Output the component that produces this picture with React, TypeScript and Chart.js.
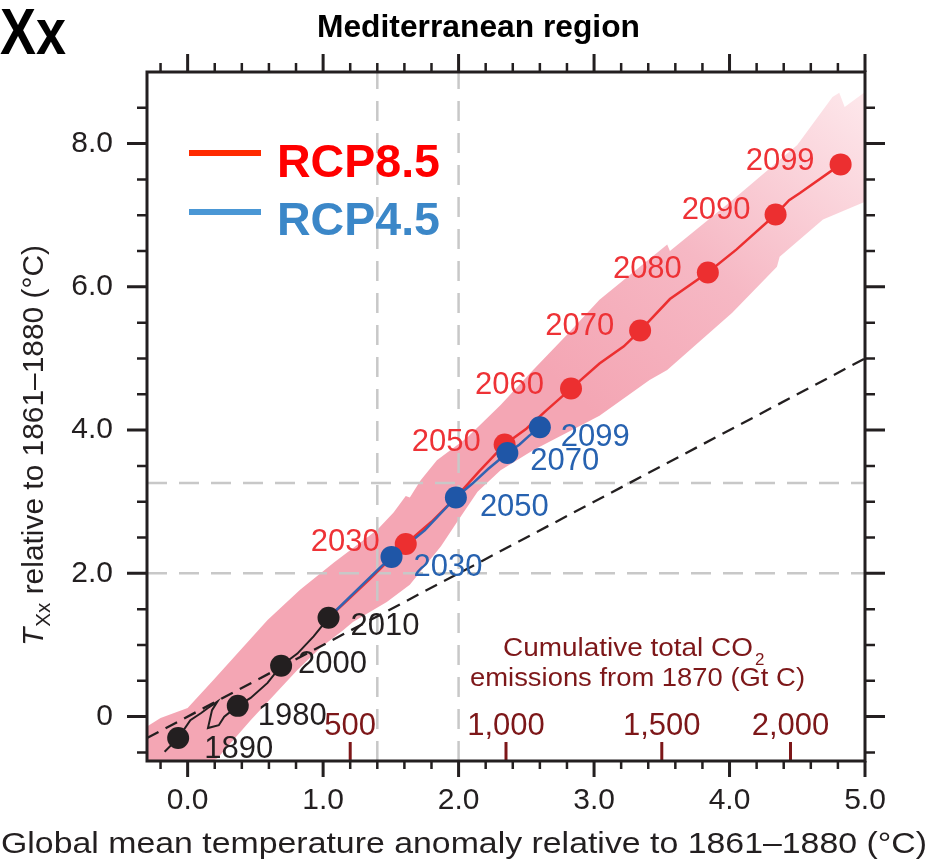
import React, { useEffect, useRef } from 'react';
import { Chart, registerables } from 'chart.js';

Chart.register(...registerables);

const FONT = '"Liberation Sans", Arial, Helvetica, sans-serif';
const INK = '#231f20';

// ---------- axis ranges & tick labels ----------
const X_MIN = -0.3;
const X_MAX = 5.0;
const Y_MIN = -0.62;
const Y_MAX = 9.0;
const xTickValues = [0, 1, 2, 3, 4, 5];
const yTickValues = [0, 2, 4, 6, 8];

// ---------- historical (black) ----------
const histYears = ['1890', '1980', '2000', '2010'];
const histX = [-0.07, 0.37, 0.69, 1.04];
const histY = [-0.3, 0.15, 0.71, 1.38];
const histLineX = [-0.17, -0.07, 0.02, 0.1, 0.15, 0.22, 0.18, 0.15, 0.23, 0.27, 0.37, 0.465, 0.59, 0.69, 0.81, 0.93, 1.04];
const histLineY = [-0.49, -0.3, -0.05, 0.05, 0.12, 0.21, 0.09, -0.16, -0.12, 0.0, 0.15, 0.26, 0.47, 0.71, 0.88, 1.12, 1.38];

// ---------- RCP8.5 (red) ----------
const rcp85Years = ['2030', '2050', '2060', '2070', '2080', '2090', '2099'];
const rcp85X = [1.61, 2.34, 2.83, 3.34, 3.84, 4.34, 4.82];
const rcp85Y = [2.41, 3.8, 4.58, 5.39, 6.2, 7.01, 7.71];
const rcp85LineX = [1.04, 1.2, 1.35, 1.5, 1.61, 1.8, 1.98, 2.15, 2.34, 2.5, 2.65, 2.83, 3.04, 3.22, 3.34, 3.56, 3.84, 4.05, 4.34, 4.44, 4.52, 4.82];
const rcp85LineY = [1.38, 1.66, 1.93, 2.21, 2.41, 2.72, 3.06, 3.42, 3.8, 4.02, 4.28, 4.58, 4.93, 5.17, 5.39, 5.83, 6.2, 6.52, 7.01, 7.21, 7.31, 7.71];

// ---------- RCP4.5 (blue) ----------
const rcp45Years = ['2030', '2050', '2070', '2099'];
const rcp45X = [1.505, 1.98, 2.36, 2.6];
const rcp45Y = [2.23, 3.06, 3.68, 4.04];
const rcp45LineX = [1.04, 1.18, 1.3, 1.42, 1.505, 1.62, 1.75, 1.88, 1.98, 2.1, 2.22, 2.36, 2.45, 2.52, 2.6];
const rcp45LineY = [1.38, 1.64, 1.86, 2.08, 2.23, 2.4, 2.6, 2.86, 3.06, 3.25, 3.46, 3.68, 3.8, 3.92, 4.04];

// ---------- uncertainty band ----------
const bandUpperX = [-0.3, -0.2, 0.0, 0.19, 0.59, 0.83, 1.08, 1.4, 1.52, 1.61, 1.64, 1.72, 1.84, 2.06, 2.31, 2.55, 2.8, 3.04, 3.54, 3.56, 4.02, 4.5, 4.76, 4.81, 4.85, 5.0];
const bandUpperY = [-0.14, -0.02, 0.12, 0.51, 1.35, 1.77, 2.15, 2.61, 2.85, 3.08, 3.06, 3.3, 3.58, 3.89, 4.35, 4.84, 5.33, 5.82, 6.59, 6.5, 7.21, 7.98, 8.65, 8.71, 8.51, 8.72];
const bandLowerX = [-0.3, 0.22, 0.465, 0.81, 0.98, 1.15, 1.22, 1.47, 1.64, 1.87, 1.99, 2.14, 2.31, 2.55, 3.04, 3.41, 3.54, 4.02, 4.35, 4.37, 4.69, 5.0];
const bandLowerY = [-1.17, -0.58, -0.05, 0.65, 0.96, 1.21, 1.32, 1.6, 1.84, 2.38, 2.72, 3.14, 3.44, 3.72, 4.2, 4.7, 4.84, 5.64, 6.28, 6.42, 6.94, 7.19];

// ---------- reference lines ----------
const refVerticalX = [1.4, 2.0];
const refHorizontalY = [2.0, 3.26];
const oneToOneX = [-0.3, 5.0];

// ---------- cumulative CO2 axis ----------
const co2Labels = ['500', '1,000', '1,500', '2,000'];
const co2AtTemperature = [1.2, 2.35, 3.5, 4.45];

// ---------- label layout (pixel offsets from the marker) ----------
const histLabelOffset = [[26, 11], [20, 11], [17, -1], [22, 9]];
const rcp85LabelOffset = [[-26, -2], [-24, -2], [-27, -3], [-26, -4], [-26, -3], [-25, -4], [-26, -3]];
const rcp45LabelOffset = [[22, 11], [24, 10], [23, 8], [21, 10]];

const RED = '#ec2f30';
const RED_LABEL = '#ee3236';
const BLUE = '#1f56a7';
const BLUE_LINE = '#3263b2';
const BLUE_LABEL = '#2762b0';
const CO2_RED = '#7d1719';

const zip = (xs: number[], ys: number[]) => xs.map((x, i) => ({ x, y: ys[i] }));

function fitText(
  ctx: CanvasRenderingContext2D,
  text: string,
  x: number,
  y: number,
  font: string,
  color: string,
  width?: number,
  align: 'left' | 'center' | 'right' = 'left',
  baseline: CanvasTextBaseline = 'alphabetic'
) {
  ctx.save();
  ctx.font = font;
  ctx.fillStyle = color;
  ctx.textBaseline = baseline;
  ctx.textAlign = 'left';
  const w = ctx.measureText(text).width;
  const sx = width ? width / w : 1;
  const tw = w * sx;
  let x0 = x;
  if (align === 'center') x0 = x - tw / 2;
  else if (align === 'right') x0 = x - tw;
  ctx.translate(x0, y);
  ctx.scale(sx, 1);
  ctx.fillText(text, 0, 0);
  ctx.restore();
}

const decorPlugin = {
  id: 'decor',
  afterDatasetsDraw(chart: any) {
    const { ctx, chartArea: a, scales } = chart;
    const xs = scales.x;
    const ys = scales.y;
    ctx.save();

    // CO2 axis ticks + labels
    ctx.strokeStyle = CO2_RED;
    ctx.lineWidth = 3;
    co2AtTemperature.forEach((t, i) => {
      const px = xs.getPixelForValue(t);
      ctx.beginPath();
      ctx.moveTo(px, a.bottom);
      ctx.lineTo(px, a.bottom - 19);
      ctx.stroke();
      fitText(ctx, co2Labels[i], px, 726, `31px ${FONT}`, CO2_RED, undefined, 'center', 'middle');
    });
    fitText(ctx, 'Cumulative total CO', 503, 656, `25px ${FONT}`, CO2_RED, 250, 'left');
    fitText(ctx, '2', 755, 665, `17px ${FONT}`, CO2_RED, undefined, 'left');
    fitText(ctx, 'emissions from 1870 (Gt C)', 470, 686, `25px ${FONT}`, CO2_RED, 335, 'left');

    // frame
    ctx.strokeStyle = INK;
    ctx.lineWidth = 3;
    ctx.strokeRect(a.left, a.top, a.right - a.left, a.bottom - a.top);

    // x ticks (bottom & top), every 0.2
    for (let k = -1; k <= 25; k++) {
      const v = k * 0.2;
      if (v < X_MIN || v > X_MAX + 1e-9) continue;
      const major = k % 5 === 0;
      const px = xs.getPixelForValue(v);
      ctx.lineWidth = major ? 3 : 2.5;
      ctx.beginPath();
      ctx.moveTo(px, a.bottom);
      ctx.lineTo(px, a.bottom + (major ? 16 : 8));
      ctx.moveTo(px, a.top);
      ctx.lineTo(px, a.top - (major ? 18 : 9));
      ctx.stroke();
    }
    // y ticks (left & right), every 0.5
    for (let k = -1; k <= 17; k++) {
      const v = k * 0.5;
      const major = k % 4 === 0;
      const py = ys.getPixelForValue(v);
      ctx.lineWidth = major ? 3 : 2.5;
      ctx.beginPath();
      ctx.moveTo(a.left, py);
      ctx.lineTo(a.left - (major ? 20 : 10), py);
      ctx.moveTo(a.right, py);
      ctx.lineTo(a.right + (major ? 20 : 10), py);
      ctx.stroke();
    }

    // point labels
    const lf = `31px ${FONT}`;
    histYears.forEach((yr, i) => {
      const px = xs.getPixelForValue(histX[i]);
      const py = ys.getPixelForValue(histY[i]);
      fitText(ctx, yr, px + histLabelOffset[i][0], py + histLabelOffset[i][1], lf, INK, undefined, 'left', 'middle');
    });
    rcp85Years.forEach((yr, i) => {
      const px = xs.getPixelForValue(rcp85X[i]);
      const py = ys.getPixelForValue(rcp85Y[i]);
      fitText(ctx, yr, px + rcp85LabelOffset[i][0], py + rcp85LabelOffset[i][1], lf, RED_LABEL, undefined, 'right', 'middle');
    });
    rcp45Years.forEach((yr, i) => {
      const px = xs.getPixelForValue(rcp45X[i]);
      const py = ys.getPixelForValue(rcp45Y[i]);
      fitText(ctx, yr, px + rcp45LabelOffset[i][0], py + rcp45LabelOffset[i][1], lf, BLUE_LABEL, undefined, 'left', 'middle');
    });

    // legend
    ctx.lineWidth = 6;
    ctx.lineCap = 'butt';
    ctx.strokeStyle = '#ff2a00';
    ctx.beginPath();
    ctx.moveTo(189, 153);
    ctx.lineTo(261, 153);
    ctx.stroke();
    ctx.strokeStyle = '#4a97d5';
    ctx.beginPath();
    ctx.moveTo(189, 212);
    ctx.lineTo(261, 212);
    ctx.stroke();
    fitText(ctx, 'RCP8.5', 277, 177, `bold 46px ${FONT}`, '#ff0000', 163, 'left');
    fitText(ctx, 'RCP4.5', 277, 235, `bold 46px ${FONT}`, '#3b87c8', 163, 'left');

    ctx.restore();
  },
  afterDraw(chart: any) {
    const { ctx } = chart;
    ctx.save();
    // panel label and title
    fitText(ctx, 'Xx', 0, 54, `bold 65px ${FONT}`, '#000', 66, 'left');
    fitText(ctx, 'Mediterranean region', 317, 37, `bold 31px ${FONT}`, '#000', 323, 'left');
    // x-axis title
    fitText(ctx, 'Global mean temperature anomaly relative to 1861\u20131880 (\u00b0C)', 1, 853, `30px ${FONT}`, INK, 926, 'left');
    // y-axis title (rotated, with italic T and subscript Xx)
    const F = 29;
    const fT = `italic ${F}px ${FONT}`;
    const fS = `${Math.round(F * 0.68)}px ${FONT}`;
    const fR = `${F}px ${FONT}`;
    const rest = ' relative to 1861\u20131880 (\u00b0C)';
    ctx.font = fT;
    const wT = ctx.measureText('T').width + 1;
    ctx.font = fS;
    const wS = ctx.measureText('Xx').width;
    ctx.font = fR;
    const wR = ctx.measureText(rest).width;
    const sx = 401 / (wT + wS + wR);
    ctx.translate(43, 646);
    ctx.rotate(-Math.PI / 2);
    ctx.scale(sx, 1);
    ctx.fillStyle = INK;
    ctx.textBaseline = 'alphabetic';
    ctx.textAlign = 'left';
    ctx.font = fT;
    ctx.fillText('T', 0, 0);
    ctx.font = fS;
    ctx.fillText('Xx', wT, F * 0.25);
    ctx.font = fR;
    ctx.fillText(rest, wT + wS, 0);
    ctx.restore();
  },
};

export default function App() {
  const ref = useRef<HTMLCanvasElement>(null);

  useEffect(() => {
    if (!ref.current) return;

    const bandFill = (context: any) => {
      const chart = context.chart;
      const { ctx, chartArea, scales } = chart;
      if (!chartArea || !scales.x || !scales.y) return 'rgba(244,168,182,1)';
      const g = ctx.createLinearGradient(
        scales.x.getPixelForValue(2.9),
        scales.y.getPixelForValue(4.4),
        scales.x.getPixelForValue(4.9),
        scales.y.getPixelForValue(8.7)
      );
      g.addColorStop(0, 'rgba(244,166,180,1)');
      g.addColorStop(0.45, 'rgba(246,184,196,1)');
      g.addColorStop(1, 'rgba(253,230,234,1)');
      return g;
    };

    const lineDs = (data: any[], color: string, width: number, order: number, dash: number[] = []) => ({
      data,
      showLine: true,
      borderColor: color,
      borderWidth: width,
      borderDash: dash,
      pointRadius: 0,
      pointHoverRadius: 0,
      fill: false,
      tension: 0,
      order,
    });

    const pointDs = (data: any[], color: string, order: number) => ({
      data,
      showLine: false,
      pointRadius: 11,
      pointHoverRadius: 11,
      pointBackgroundColor: color,
      pointBorderColor: color,
      pointBorderWidth: 0,
      order,
    });

    const datasets: any[] = [
      {
        data: zip(bandUpperX, bandUpperY),
        showLine: true,
        borderColor: 'transparent',
        borderWidth: 1,
        pointRadius: 0,
        pointHoverRadius: 0,
        fill: '+1',
        backgroundColor: bandFill,
        tension: 0,
        order: 30,
      },
      {
        data: zip(bandLowerX, bandLowerY),
        showLine: true,
        borderColor: 'transparent',
        borderWidth: 1,
        pointRadius: 0,
        pointHoverRadius: 0,
        fill: false,
        tension: 0,
        order: 31,
      },
      ...refVerticalX.map((v) => lineDs([{ x: v, y: Y_MIN }, { x: v, y: Y_MAX }], '#c8c8c8', 2.5, 20, [20, 12])),
      ...refHorizontalY.map((v) => lineDs([{ x: X_MIN, y: v }, { x: X_MAX, y: v }], '#c8c8c8', 2.5, 20, [20, 12])),
      lineDs(oneToOneX.map((v) => ({ x: v, y: v })), INK, 2.3, 15, [13, 8]),
      lineDs(zip(histLineX, histLineY), INK, 2, 10),
      lineDs(zip(rcp85LineX, rcp85LineY), RED, 2.5, 9),
      lineDs(zip(rcp45LineX, rcp45LineY), BLUE_LINE, 2.5, 8),
      pointDs(zip(rcp85X, rcp85Y), RED, 3),
      pointDs(zip(rcp45X, rcp45Y), BLUE, 2),
      pointDs(zip(histX, histY), INK, 1),
    ];

    const chart = new Chart(ref.current, {
      type: 'line',
      data: { datasets },
      options: {
        responsive: false,
        animation: false,
        events: [],
        layout: { padding: { top: 72, right: 67, left: 0, bottom: 0 } },
        plugins: {
          legend: { display: false },
          tooltip: { enabled: false },
          title: { display: false },
        },
        scales: {
          x: {
            type: 'linear',
            min: X_MIN,
            max: X_MAX,
            grid: { display: false, drawTicks: false },
            border: { display: false },
            ticks: {
              font: { family: FONT, size: 30 },
              color: INK,
              padding: 22,
              maxRotation: 0,
              autoSkip: false,
              callback: (v: any) => Number(v).toFixed(1),
            },
            afterBuildTicks: (s: any) => {
              s.ticks = xTickValues.map((v) => ({ value: v }));
            },
            afterFit: (s: any) => {
              s.height = 100;
            },
          },
          y: {
            type: 'linear',
            min: Y_MIN,
            max: Y_MAX,
            grid: { display: false, drawTicks: false },
            border: { display: false },
            ticks: {
              font: { family: FONT, size: 30 },
              color: INK,
              padding: 34,
              autoSkip: false,
              callback: (v: any) => (Number(v) === 0 ? '0' : Number(v).toFixed(1)),
            },
            afterBuildTicks: (s: any) => {
              s.ticks = yTickValues.map((v) => ({ value: v }));
            },
            afterFit: (s: any) => {
              s.width = 147;
            },
          },
        },
      } as any,
      plugins: [decorPlugin],
    });

    return () => chart.destroy();
  }, []);

  return (
    <div style={{ position: 'absolute', left: 0, top: 0, width: 932, height: 861, background: '#fff' }}>
      <canvas ref={ref} width={932} height={861} style={{ display: 'block', width: 932, height: 861 }} />
    </div>
  );
}
